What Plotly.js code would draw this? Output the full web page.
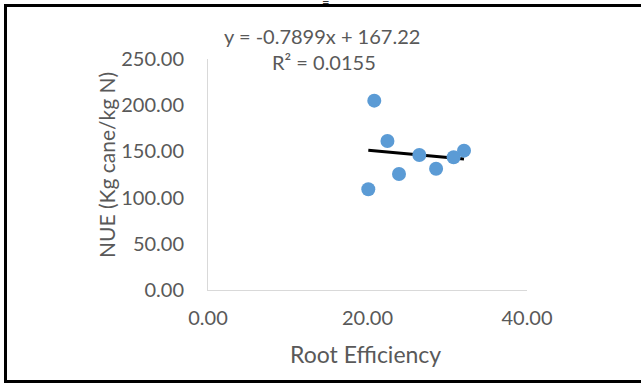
<!DOCTYPE html>
<html>
<head>
<meta charset="utf-8">
<script src="https://cdn.plot.ly/plotly-3.0.1.min.js"></script>
<style>
  html, body { margin: 0; padding: 0; background: #fff; }
  #wrap { position: relative; width: 641px; height: 383px; overflow: hidden; background: #fff; }
  #frame {
    position: absolute; left: 4px; top: 4px; width: 660px; height: 373px;
    border-left: 3px solid #000; border-top: 3px solid #000; border-bottom: 3px solid #000;
    pointer-events: none;
  }
  #chart { position: absolute; left: 0; top: 0; width: 641px; height: 383px; }
</style>
</head>
<body>
<div id="wrap">
  <div id="frame"></div>
  <div id="chart"></div>
</div>
<script>
// Root efficiency vs. nitrogen use efficiency, one point per treatment
const rootEfficiency = [20.85, 22.5, 26.5, 23.95, 20.1, 28.6, 30.8, 32.1];
const nue = [204.9, 161.3, 146.1, 125.5, 109.0, 131.3, 143.6, 150.8];

// Linear fit reported on the chart
const slope = -0.7899;
const intercept = 167.22;
const rSquared = 0.0155;

const xTicks = [0, 20, 40];
const yTicks = [0, 50, 100, 150, 200, 250];

const xMin = Math.min(...rootEfficiency);
const xMax = Math.max(...rootEfficiency);
const fitX = [xMin, xMax];
const fitY = fitX.map(x => slope * x + intercept);

const textColor = '#595959';
const font = 'Lato, "Open Sans", sans-serif';

// plot area in pixels: left 208, top 59, width 319, height 231
const px = x => (x - 208) / 319;
const py = y => (290 - y) / 231;

const traces = [
  {
    x: fitX, y: fitY, type: 'scatter', mode: 'lines',
    line: { color: '#000000', width: 3 }, hoverinfo: 'skip'
  },
  {
    x: rootEfficiency, y: nue, type: 'scatter', mode: 'markers',
    marker: { color: '#5B9BD5', size: 14 }
  }
];

const layout = {
  width: 641, height: 383,
  margin: { l: 208, r: 114, t: 59, b: 93 },
  paper_bgcolor: 'rgba(0,0,0,0)', plot_bgcolor: 'rgba(0,0,0,0)',
  showlegend: false,
  font: { family: font, color: textColor },
  xaxis: {
    range: [0, 40], tickvals: xTicks, ticktext: xTicks.map(v => v.toFixed(2)),
    showgrid: false, zeroline: false, showline: true, linecolor: '#d9d9d9', linewidth: 1,
    ticks: '', ticklabelstandoff: 10, tickfont: { size: 20, color: textColor, family: font }
  },
  yaxis: {
    range: [0, 250], tickvals: yTicks, ticktext: yTicks.map(v => v.toFixed(2)),
    showgrid: false, zeroline: false, showline: true, linecolor: '#d9d9d9', linewidth: 1,
    ticks: '', ticklabelstandoff: 19, tickfont: { size: 20, color: textColor, family: font }
  },
  annotations: [
    {
      text: '=',
      xref: 'paper', yref: 'paper', x: px(326), y: py(2),
      xanchor: 'center', yanchor: 'middle', showarrow: false,
      font: { size: 13, color: '#333333', family: font }
    },
    {
      text: 'y = ' + slope.toFixed(4) + 'x + ' + intercept.toFixed(2),
      xref: 'paper', yref: 'paper', x: px(322), y: py(36),
      xanchor: 'center', yanchor: 'middle', showarrow: false,
      font: { size: 20, color: textColor, family: font }
    },
    {
      text: 'R² = ' + rSquared.toFixed(4),
      xref: 'paper', yref: 'paper', x: px(324), y: py(62),
      xanchor: 'center', yanchor: 'middle', showarrow: false,
      font: { size: 20, color: textColor, family: font }
    },
    {
      text: 'NUE (Kg cane/kg N)', textangle: -90,
      xref: 'paper', yref: 'paper', x: px(106), y: py(165),
      xanchor: 'center', yanchor: 'middle', showarrow: false,
      font: { size: 21, color: textColor, family: font }
    },
    {
      text: 'Root Efficiency',
      xref: 'paper', yref: 'paper', x: px(365), y: py(354),
      xanchor: 'center', yanchor: 'middle', showarrow: false,
      font: { size: 23, color: textColor, family: font }
    }
  ]
};

Plotly.newPlot('chart', traces, layout, { staticPlot: true, displayModeBar: false });
</script>
</body>
</html>
